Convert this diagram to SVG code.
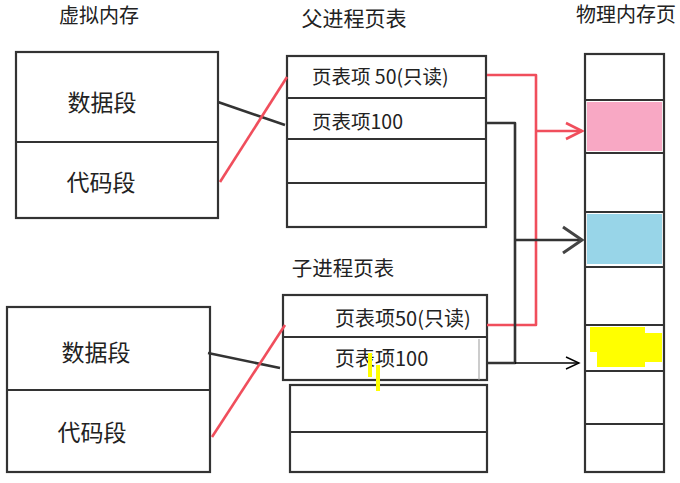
<svg xmlns="http://www.w3.org/2000/svg" width="680" height="483" viewBox="0 0 680 483">
<defs>
<style>
.t{font-family:"Noto Sans CJK SC","Noto Sans",sans-serif;fill:#222;}
.box{fill:#fff;stroke:#333;stroke-width:2.2;}
.ln{stroke:#333;stroke-width:2.2;fill:none;}
.blk{stroke:#333;stroke-width:2.6;fill:none;stroke-linejoin:round;}
.red{stroke:#f04e5c;stroke-width:2.6;fill:none;stroke-linejoin:round;}
.thin{stroke:#000;stroke-width:1.4;fill:none;}
</style>
<marker id="arrRed" markerUnits="userSpaceOnUse" markerWidth="20" markerHeight="20" viewBox="0 0 20 20" refX="18" refY="10" orient="auto">
<path d="M2,2 L18,10 L2,18" fill="none" stroke="#f04e5c" stroke-width="2.6"/>
</marker>
<marker id="arrBlk" markerUnits="userSpaceOnUse" markerWidth="24" markerHeight="30" viewBox="0 0 24 30" refX="21" refY="15" orient="auto">
<path d="M2,2 L21,15 L2,28" fill="none" stroke="#444" stroke-width="3"/>
</marker>
<marker id="arrThin" markerUnits="userSpaceOnUse" markerWidth="16" markerHeight="16" viewBox="0 0 16 16" refX="14" refY="8" orient="auto">
<path d="M1,2 L14,8 L1,14" fill="none" stroke="#000" stroke-width="1.4"/>
</marker>
</defs>
<rect width="680" height="483" fill="#fff"/>

<g id="titles">
<text class="t" x="99" y="23" font-size="20" text-anchor="middle">虚拟内存</text>
<text class="t" x="354" y="26" font-size="21" text-anchor="middle">父进程页表</text>
<text class="t" x="626" y="22" font-size="20" text-anchor="middle">物理内存页</text>
<text class="t" x="343" y="276" font-size="20.5" text-anchor="middle">子进程页表</text>
</g>

<g id="parent-virtual">
<rect class="box" x="16" y="52" width="202" height="166"/>
<line class="ln" x1="16" y1="142" x2="218" y2="142"/>
<text class="t" x="102" y="111" font-size="23" text-anchor="middle">数据段</text>
<text class="t" x="101" y="191" font-size="23" text-anchor="middle">代码段</text>
</g>

<g id="parent-pagetable">
<rect class="box" x="287" y="56" width="199" height="171"/>
<line class="ln" x1="287" y1="98" x2="486" y2="98"/>
<line class="ln" x1="287" y1="139" x2="486" y2="139"/>
<line class="ln" x1="287" y1="183" x2="486" y2="183"/>
<text class="t" x="312" y="84" font-size="19.5">页表项 50(只读)</text>
<text class="t" x="312" y="129" font-size="19.5">页表项100</text>
</g>

<g id="child-virtual">
<rect class="box" x="7" y="307" width="203" height="165"/>
<line class="ln" x1="7" y1="390" x2="210" y2="390"/>
<text class="t" x="96" y="361" font-size="23" text-anchor="middle">数据段</text>
<text class="t" x="92" y="441" font-size="23" text-anchor="middle">代码段</text>
</g>

<g id="child-pagetable">
<rect class="box" x="290" y="385" width="197" height="87"/>
<line class="ln" x1="290" y1="432" x2="487" y2="432"/>
<rect class="box" x="283" y="295" width="204" height="85"/>
<line class="ln" x1="283" y1="337" x2="487" y2="337"/>
<line x1="479" y1="339" x2="479" y2="380" stroke="#999" stroke-width="1"/>
<text class="t" x="335" y="326" font-size="20">页表项50(只读)</text>
<text class="t" x="335" y="366" font-size="20">页表项100</text>
<rect x="368" y="353" width="4" height="24" fill="#ffff00"/>
<rect x="376" y="365" width="4" height="26" fill="#ffff00"/>
</g>

<g id="physical-memory">
<rect class="box" x="585" y="54" width="79" height="418"/>
<rect x="587" y="102" width="75" height="49" fill="#f8a8c4"/>
<rect x="587" y="214" width="75" height="50" fill="#98d5e8"/>
<path d="M590,327 H645 V333 H662 V362 H645 V367 H597 V352 H590 Z" fill="#ffff00"/>
<line class="ln" x1="585" y1="100" x2="664" y2="100"/>
<line class="ln" x1="585" y1="153" x2="664" y2="153"/>
<line class="ln" x1="585" y1="212" x2="664" y2="212"/>
<line class="ln" x1="585" y1="267" x2="664" y2="267"/>
<line class="ln" x1="585" y1="325" x2="664" y2="325"/>
<line class="ln" x1="585" y1="371" x2="664" y2="371"/>
<line class="ln" x1="585" y1="424" x2="664" y2="424"/>
</g>

<g id="connectors">
<line class="blk" x1="218" y1="102" x2="285" y2="125"/>
<line class="red" x1="220" y1="182" x2="287" y2="77"/>
<line class="blk" x1="208" y1="353" x2="280" y2="368"/>
<line class="red" x1="212" y1="437" x2="285" y2="325"/>
<path class="red" d="M487,75 H536 V325 H487"/>
<path class="red" d="M536,131 H582" marker-end="url(#arrRed)"/>
<path class="blk" d="M487,123 H515 V363 H487"/>
<path class="blk" d="M515,240 H582" marker-end="url(#arrBlk)"/>
<path class="thin" d="M515,363 H579" marker-end="url(#arrThin)"/>
</g>
</svg>
